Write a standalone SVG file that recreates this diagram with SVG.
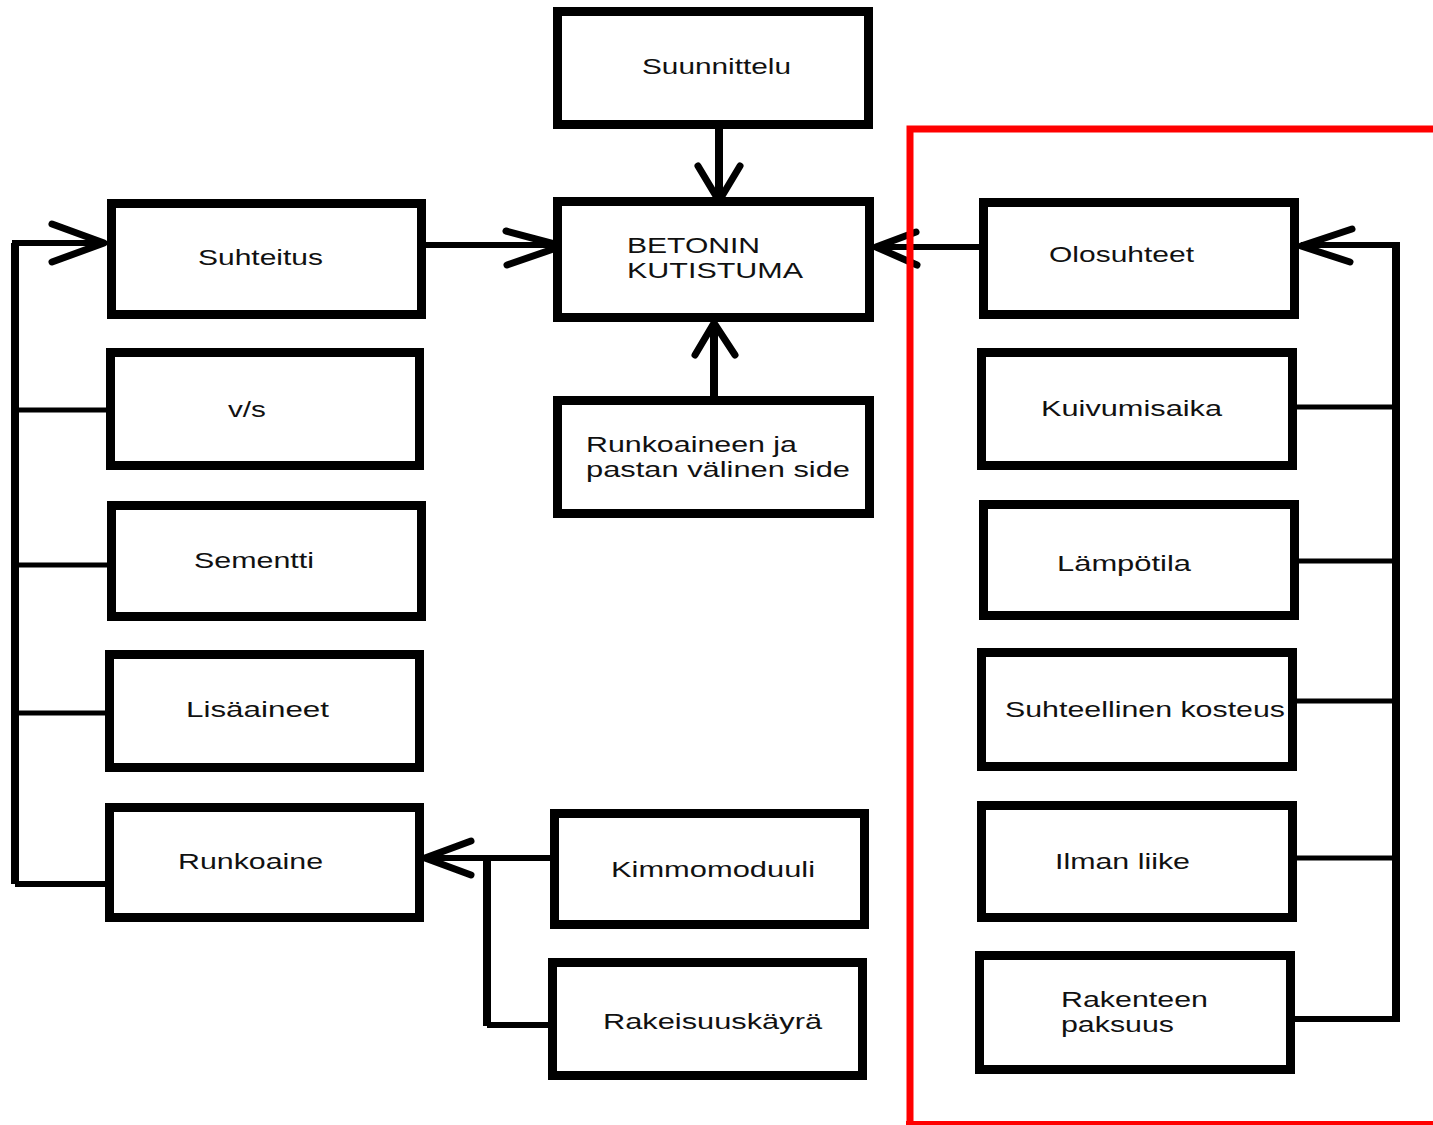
<svg xmlns="http://www.w3.org/2000/svg" width="1433" height="1125" viewBox="0 0 1433 1125">
<style>
.box{fill:#fff;stroke:#000;stroke-width:9}
.t{font-family:"Liberation Sans",Arial,sans-serif;font-size:22px;fill:#111}
.c{fill:none;stroke:#000;stroke-width:6;stroke-linecap:butt}
.bus{fill:none;stroke:#000;stroke-width:8}
.thin{fill:none;stroke:#000;stroke-width:5}
.ah{fill:none;stroke:#000;stroke-width:7;stroke-linecap:round;stroke-linejoin:round}
.red{fill:none;stroke:#ff0000}
</style>
<rect width="1433" height="1125" fill="#fff"/>
<g id="connectors">
  <path class="bus" d="M15 243 V884"/>
  <path class="c" d="M12 243 H104"/>
  <path class="ah" d="M52 224 L104 243 L52 262"/>
  <path class="thin" d="M15 410 H116"/>
  <path class="thin" d="M15 565 H116"/>
  <path class="thin" d="M15 713 H116"/>
  <path class="c" d="M15 884 H106"/>
  <path class="c" d="M426 245 H562"/>
  <path class="ah" d="M506 231 L562 246 L507 265"/>
  <path class="bus" d="M719 129 V200"/>
  <path class="ah" d="M698 166 L719 201 L740 166"/>
  <path class="bus" d="M714 400 V324"/>
  <path class="ah" d="M695 355 L714 323 L735 355"/>
  <path class="c" d="M979 247 H876"/>
  <path class="ah" d="M916 232 L876 247 L917 265"/>
  <path class="bus" d="M1396 243 V1019"/>
  <path class="c" d="M1400 245 H1301"/>
  <path class="ah" d="M1352 229 L1301 246 L1350 262"/>
  <path class="thin" d="M1297 407 H1396"/>
  <path class="thin" d="M1299 561 H1396"/>
  <path class="thin" d="M1297 701 H1400"/>
  <path class="thin" d="M1297 858 H1400"/>
  <path class="c" d="M1286 1019 H1400"/>
  <path class="c" d="M550 858 H425"/>
  <path class="ah" d="M471 841 L425 858 L471 875"/>
  <path class="bus" d="M487 858 V1026"/>
  <path class="c" d="M487 1025 H548"/>
</g>
<g id="n-suunnittelu"><rect class="box" x="557.5" y="11.5" width="311" height="113"/><text class="t" x="642" y="74" textLength="149" lengthAdjust="spacingAndGlyphs">Suunnittelu</text></g>
<g id="n-betonin"><rect class="box" x="557.5" y="201.5" width="312" height="116"/><text class="t" x="627" y="253" textLength="133" lengthAdjust="spacingAndGlyphs">BETONIN</text><text class="t" x="627" y="278" textLength="176" lengthAdjust="spacingAndGlyphs">KUTISTUMA</text></g>
<g id="n-runkoaineen"><rect class="box" x="557.5" y="400.5" width="312" height="113"/><text class="t" x="586" y="452" textLength="211" lengthAdjust="spacingAndGlyphs">Runkoaineen ja</text><text class="t" x="586" y="477" textLength="264" lengthAdjust="spacingAndGlyphs">pastan välinen side</text></g>
<g id="n-suhteitus"><rect class="box" x="111.5" y="203.5" width="310" height="111"/><text class="t" x="198" y="265" textLength="125" lengthAdjust="spacingAndGlyphs">Suhteitus</text></g>
<g id="n-vs"><rect class="box" x="110.5" y="352.5" width="309" height="113"/><text class="t" x="228" y="417" textLength="38" lengthAdjust="spacingAndGlyphs">v/s</text></g>
<g id="n-sementti"><rect class="box" x="111.5" y="505.5" width="310" height="111"/><text class="t" x="194" y="568" textLength="120" lengthAdjust="spacingAndGlyphs">Sementti</text></g>
<g id="n-lisaaineet"><rect class="box" x="109.5" y="654.5" width="310" height="113"/><text class="t" x="186" y="717" textLength="143" lengthAdjust="spacingAndGlyphs">Lisäaineet</text></g>
<g id="n-runkoaine"><rect class="box" x="109.5" y="807.5" width="310" height="110"/><text class="t" x="178" y="869" textLength="145" lengthAdjust="spacingAndGlyphs">Runkoaine</text></g>
<g id="n-kimmomoduuli"><rect class="box" x="554.5" y="813.5" width="310" height="111"/><text class="t" x="611" y="877" textLength="204" lengthAdjust="spacingAndGlyphs">Kimmomoduuli</text></g>
<g id="n-rakeisuuskayra"><rect class="box" x="552.5" y="962.5" width="310" height="113"/><text class="t" x="603" y="1029" textLength="219" lengthAdjust="spacingAndGlyphs">Rakeisuuskäyrä</text></g>
<g id="n-olosuhteet"><rect class="box" x="983.5" y="202.5" width="311" height="112"/><text class="t" x="1049" y="262" textLength="145" lengthAdjust="spacingAndGlyphs">Olosuhteet</text></g>
<g id="n-kuivumisaika"><rect class="box" x="981.5" y="352.5" width="311" height="113"/><text class="t" x="1041" y="416" textLength="181" lengthAdjust="spacingAndGlyphs">Kuivumisaika</text></g>
<g id="n-lampotila"><rect class="box" x="983.5" y="504.5" width="311" height="111"/><text class="t" x="1057" y="571" textLength="134" lengthAdjust="spacingAndGlyphs">Lämpötila</text></g>
<g id="n-suhteellinen"><rect class="box" x="981.5" y="652.5" width="311" height="114"/><text class="t" x="1005" y="717" textLength="280" lengthAdjust="spacingAndGlyphs">Suhteellinen kosteus</text></g>
<g id="n-ilmanliike"><rect class="box" x="981.5" y="805.5" width="311" height="112"/><text class="t" x="1055" y="869" textLength="135" lengthAdjust="spacingAndGlyphs">Ilman liike</text></g>
<g id="n-rakenteen"><rect class="box" x="979.5" y="955.5" width="311" height="114"/><text class="t" x="1061" y="1007" textLength="147" lengthAdjust="spacingAndGlyphs">Rakenteen</text><text class="t" x="1061" y="1032" textLength="113" lengthAdjust="spacingAndGlyphs">paksuus</text></g>
<g id="red-frame">
  <path class="red" stroke-width="7" d="M1433 129 H910 V1125"/>
  <path class="red" stroke-width="4" d="M906 1123 H1433"/>
</g>
</svg>
